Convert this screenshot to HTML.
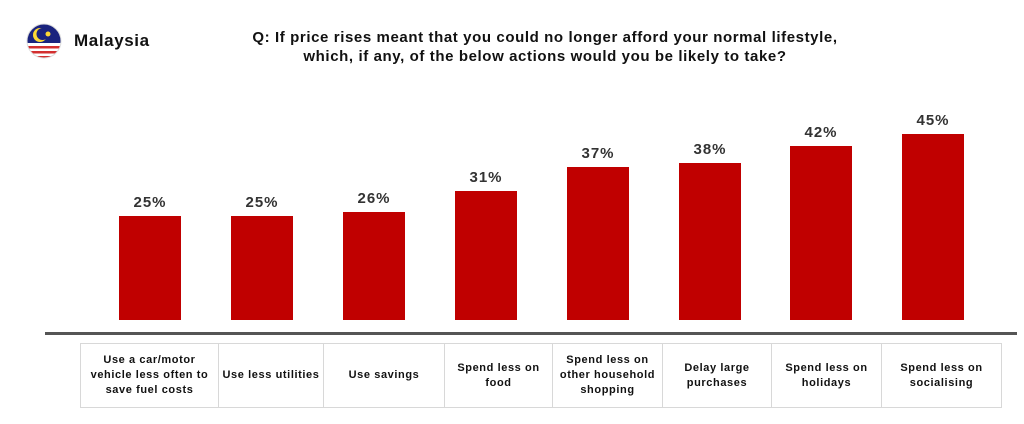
<!DOCTYPE html>
<html><head><style>
body{margin:0;width:1024px;height:424px;background:#fff;position:relative;overflow:hidden;font-family:"Liberation Sans",Arial,sans-serif;font-weight:bold;color:#111}
.bar{position:absolute;background:#c00000;width:62px;bottom:104px}
.lbl{position:absolute;width:80px;text-align:center;font-size:15px;letter-spacing:1px;color:#333}
.cell{position:absolute;top:343px;height:65px;border:1px solid #d8d8d8;box-sizing:border-box;display:flex;align-items:center;justify-content:center;text-align:center;font-size:11px;letter-spacing:0.6px;line-height:15px;color:#111}
</style></head><body>
<svg style="position:absolute;left:25px;top:22px" width="38" height="38" viewBox="0 0 38 38">
<defs><clipPath id="c"><circle cx="19" cy="19" r="17"/></clipPath></defs>
<g clip-path="url(#c)">
<rect width="38" height="38" fill="#fff"/>
<rect width="38" height="21" fill="#1a237e"/>
<rect y="24" width="38" height="2.5" fill="#d32f2f"/>
<rect y="29" width="38" height="2.5" fill="#d32f2f"/>
<rect y="34" width="38" height="3" fill="#d32f2f"/>
<circle cx="15" cy="13" r="7" fill="#fdd835"/><circle cx="17.5" cy="12" r="6" fill="#1a237e"/>
<circle cx="23" cy="12" r="2.5" fill="#fdd835"/>
</g><circle cx="19" cy="19" r="17" fill="none" stroke="#ddd"/></svg>
<div style="position:absolute;left:74px;top:31px;font-size:17px;letter-spacing:0.6px">Malaysia</div>
<div style="position:absolute;left:195px;top:28px;width:700px;text-align:center;font-size:15px;letter-spacing:0.6px;line-height:19px">Q: If price rises meant that you could no longer afford your normal lifestyle,<br>which, if any, of the below actions would you be likely to take?</div>

<div class="bar" style="left:119px;top:216px"></div><div class="lbl" style="left:110px;top:194px">25%</div>
<div class="bar" style="left:231px;top:216px"></div><div class="lbl" style="left:222px;top:194px">25%</div>
<div class="bar" style="left:343px;top:212px"></div><div class="lbl" style="left:334px;top:190px">26%</div>
<div class="bar" style="left:455px;top:191px"></div><div class="lbl" style="left:446px;top:169px">31%</div>
<div class="bar" style="left:567px;top:167px"></div><div class="lbl" style="left:558px;top:145px">37%</div>
<div class="bar" style="left:679px;top:163px"></div><div class="lbl" style="left:670px;top:141px">38%</div>
<div class="bar" style="left:790px;top:146px"></div><div class="lbl" style="left:781px;top:124px">42%</div>
<div class="bar" style="left:902px;top:134px"></div><div class="lbl" style="left:893px;top:112px">45%</div>

<div style="position:absolute;left:45px;top:332px;width:972px;height:3px;background:#555"></div>

<div class="cell" style="left:80px;width:139px">Use a car/motor<br>vehicle less often to<br>save fuel costs</div>
<div class="cell" style="left:218px;width:106px">Use less utilities</div>
<div class="cell" style="left:323px;width:122px">Use savings</div>
<div class="cell" style="left:444px;width:109px">Spend less on<br>food</div>
<div class="cell" style="left:552px;width:111px">Spend less on<br>other household<br>shopping</div>
<div class="cell" style="left:662px;width:110px">Delay large<br>purchases</div>
<div class="cell" style="left:771px;width:111px">Spend less on<br>holidays</div>
<div class="cell" style="left:881px;width:121px">Spend less on<br>socialising</div>
</body></html>
